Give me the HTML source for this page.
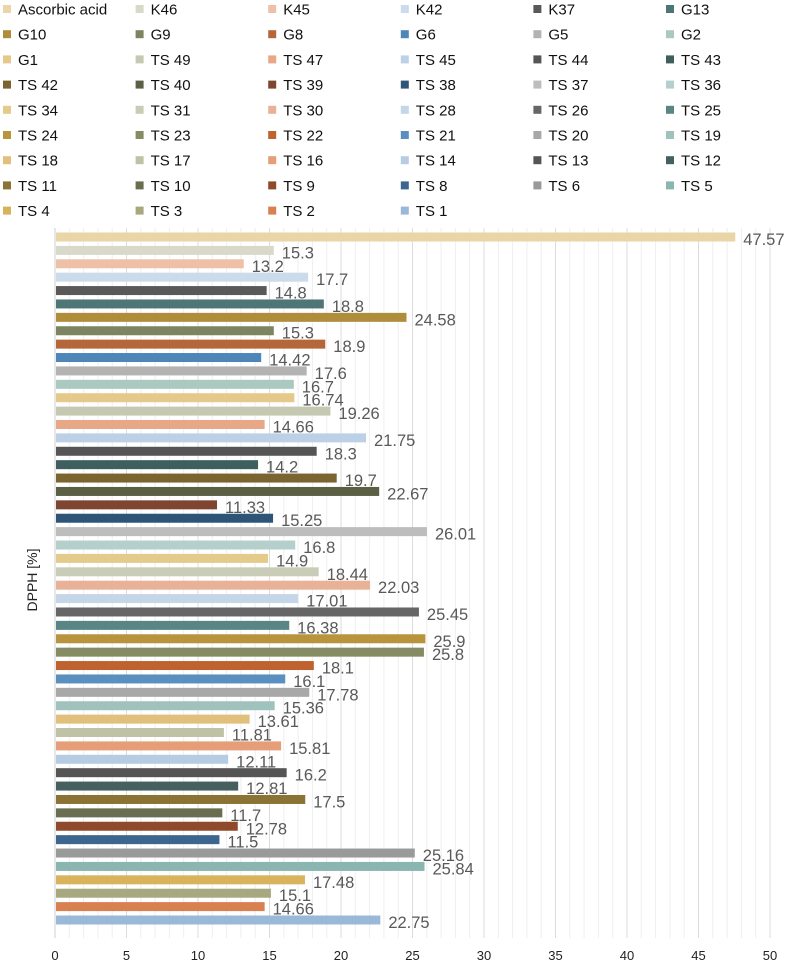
<!DOCTYPE html>
<html><head><meta charset="utf-8"><style>
body{margin:0;background:#fff;font-family:"Liberation Sans",sans-serif;}
svg{display:block}
</style></head><body>
<svg id="chart" width="797" height="968"></svg>
<script>
const categories=["Ascorbic acid","K46","K45","K42","K37","G13","G10","G9","G8","G6","G5","G2","G1","TS 49","TS 47","TS 45","TS 44","TS 43","TS 42","TS 40","TS 39","TS 38","TS 37","TS 36","TS 34","TS 31","TS 30","TS 28","TS 26","TS 25","TS 24","TS 23","TS 22","TS 21","TS 20","TS 19","TS 18","TS 17","TS 16","TS 14","TS 13","TS 12","TS 11","TS 10","TS 9","TS 8","TS 6","TS 5","TS 4","TS 3","TS 2","TS 1"];
const values=[47.57,15.3,13.2,17.7,14.8,18.8,24.58,15.3,18.9,14.42,17.6,16.7,16.74,19.26,14.66,21.75,18.3,14.2,19.7,22.67,11.33,15.25,26.01,16.8,14.9,18.44,22.03,17.01,25.45,16.38,25.9,25.8,18.1,16.1,17.78,15.36,13.61,11.81,15.81,12.11,16.2,12.81,17.5,11.7,12.78,11.5,25.16,25.84,17.48,15.1,14.66,22.75];
const colors=["#ead5a6","#d8d9c9","#efc0a8","#cadbeb","#595959","#4f7676",
"#b08d3a","#7c8460","#b5673a","#4e86b8","#b3b3b3","#a9c9c1",
"#e4c98a","#c6c9b1","#e8a888","#bdd1e6","#555555","#3f5f5f",
"#7a6530","#5b6045","#7e4530","#2e5478","#bdbdbd","#b5d0cc",
"#e5cb8b","#c9ccb6","#e9b298","#c5d6e8","#666666","#5a8585",
"#b8943c","#858b62","#c0622f","#5a8fc0","#a8a8a8","#9fc2bd",
"#e0c07a","#bfc2a5","#e59e78","#b5cce3","#555555","#45605f",
"#8b7235","#6a6e50","#8e4a2a","#3d668f","#9a9a9a","#8ab5b0",
"#d9b25c","#a8a880","#d98050","#9ab8d8"];
const ticks=[0,5,10,15,20,25,30,35,40,45,50];
const NS="http://www.w3.org/2000/svg";
const svg=document.getElementById('chart');
const x0=55,x1=770,xmax=50,yTop=237,yBot=920;
const xs=v=>x0+(x1-x0)*v/xmax;
const ys=i=>yTop+(yBot-yTop)*i/(categories.length-1);
function mk(t,a){const e=document.createElementNS(NS,t);for(const k in a)e.setAttribute(k,a[k]);svg.appendChild(e);return e;}
for(let v=1;v<=xmax;v++){
  const g=mk('line',{x1:xs(v),x2:xs(v),y1:228,y2:938,stroke:v%5===0?'#dcdcdc':'#eeeeee','stroke-width':1});
  
  
}
const ax=mk('line',{x1:x0,x2:x0,y1:228,y2:938,stroke:'#cfcfcf','stroke-width':1});


ticks.forEach(t=>{
  const e=mk('text',{x:xs(t),y:960,'text-anchor':'middle','font-size':13,fill:'#222'});
  e.textContent=t;
  
  
});
const yt=mk('text',{x:0,y:0,transform:'translate(37,580) rotate(-90)','text-anchor':'middle','font-size':14,fill:'#222'});
yt.textContent='DPPH [%]';


values.forEach((v,i)=>{
  const y=ys(i);
  const r=mk('rect',{x:x0+1,y:y-4.5,width:xs(v)-x0-1,height:9,fill:colors[i]});
  
  
  const l=mk('text',{x:xs(v)+8,y:y+8,'font-size':16.5,fill:'#595959'});
  l.textContent=v;
  
  
});
categories.forEach((c,i)=>{
  const col=i%6,row=Math.floor(i/6);
  const lx=3+col*132.6,ly=9+row*25.2;
  const s=mk('rect',{x:lx,y:ly-4,width:8,height:8,fill:colors[i]});
  
  
  const t=mk('text',{x:lx+15,y:ly+5.5,'font-size':15,fill:'#111'});
  t.textContent=c;
  
  
});
</script>
</body></html>
